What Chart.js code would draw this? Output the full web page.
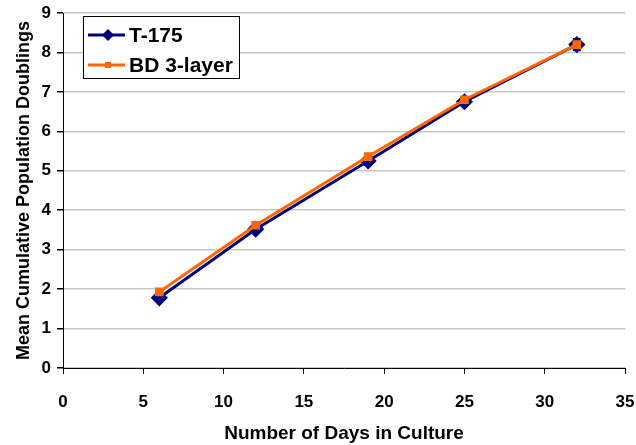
<!DOCTYPE html>
<html>
<head>
<meta charset="utf-8">
<script src="https://cdn.jsdelivr.net/npm/chart.js@4"></script>
<style>
  html, body { margin: 0; padding: 0; background: #fff; }
  #wrap { width: 636px; height: 445px; }
</style>
</head>
<body>
<div id="wrap"><canvas id="growthChart" width="636" height="445"></canvas></div>
<script>
// data
var days = [6, 12, 19, 25, 32];
var t175 = [1.78, 3.52, 5.25, 6.75, 8.2];
var t175Err = [0.05, 0.05, 0.05, 0.05, 0.15];
var bd3 = [1.93, 3.62, 5.36, 6.8, 8.2];
var bd3Err = [0.06, 0.06, 0.05, 0.04, 0.1];
var xTicks = [0, 5, 10, 15, 20, 25, 30, 35];
var yTicks = [0, 1, 2, 3, 4, 5, 6, 7, 8, 9];

var FONT = "'Liberation Sans', Arial, sans-serif";

function pts(xs, ys) {
    return xs.map(function (x, i) { return { x: x, y: ys[i] }; });
}

var errorBars = {
    id: "errorBars",
    beforeDatasetsDraw: function (chart) {
        var ctx = chart.ctx;
        var xs = chart.scales.x, ys = chart.scales.y;
        chart.data.datasets.forEach(function (ds) {
            ctx.save();
            ctx.strokeStyle = ds.errColor;
            ctx.lineWidth = 1.5;
            ds.data.forEach(function (p, i) {
                var e = ds.err[i];
                var px = xs.getPixelForValue(p.x);
                var top = ys.getPixelForValue(p.y + e);
                var bot = ys.getPixelForValue(p.y - e);
                ctx.beginPath();
                ctx.moveTo(px, top); ctx.lineTo(px, bot);
                ctx.moveTo(px - 4, top); ctx.lineTo(px + 4, top);
                ctx.moveTo(px - 4, bot); ctx.lineTo(px + 4, bot);
                ctx.stroke();
            });
            ctx.restore();
        });
    }
};

// legend box drawn inside the plot, like the original
var boxLegend = {
    id: "boxLegend",
    afterDraw: function (chart) {
        var ctx = chart.ctx;
        var x0 = 83, y0 = 16, w = 156, h = 62;
        ctx.save();
        ctx.fillStyle = "#fff";
        ctx.fillRect(x0, y0, w, h);
        ctx.strokeStyle = "#000";
        ctx.lineWidth = 1;
        ctx.strokeRect(x0 + 0.5, y0 + 0.5, w, h);
        ctx.font = "bold 21px " + FONT;
        ctx.textBaseline = "middle";
        chart.data.datasets.forEach(function (ds, i) {
            var y = y0 + 19 + i * 30;
            ctx.strokeStyle = ds.borderColor;
            ctx.lineWidth = 3;
            ctx.beginPath();
            ctx.moveTo(x0 + 5, y); ctx.lineTo(x0 + 42, y);
            ctx.stroke();
            ctx.fillStyle = ds.borderColor;
            var cx = x0 + 25;
            if (ds.pointStyle === "rectRot") {
                ctx.beginPath();
                ctx.moveTo(cx, y - 6); ctx.lineTo(cx + 6, y);
                ctx.lineTo(cx, y + 6); ctx.lineTo(cx - 6, y);
                ctx.closePath(); ctx.fill();
            } else {
                ctx.fillRect(cx - 3, y - 3, 6, 6);
            }
            ctx.fillStyle = "#000";
            ctx.fillText(ds.label, x0 + 46, y + 1);
        });
        ctx.restore();
    }
};

var ctx = document.getElementById("growthChart").getContext("2d");
var growthChart = new Chart(ctx, {
    type: "scatter",
    data: {
        datasets: [
            {
                label: "T-175",
                data: pts(days, t175),
                err: t175Err,
                errColor: "#000040",
                showLine: true,
                borderColor: "#000080",
                backgroundColor: "#000080",
                borderWidth: 3,
                pointStyle: "rectRot",
                pointRadius: 6.5,
                order: 1
            },
            {
                label: "BD 3-layer",
                data: pts(days, bd3),
                err: bd3Err,
                errColor: "#666666",
                showLine: true,
                borderColor: "#FF6600",
                backgroundColor: "#FF6600",
                borderWidth: 3,
                pointStyle: "rect",
                pointRadius: 4,
                order: 0
            }
        ]
    },
    options: {
        responsive: false,
        animation: false,
        layout: { padding: { top: 13, right: 11, left: 12, bottom: 0 } },
        plugins: {
            legend: { display: false },
            tooltip: { enabled: false }
        },
        scales: {
            x: {
                type: "linear",
                min: 0,
                max: 35,
                afterBuildTicks: function (axis) {
                    axis.ticks = xTicks.map(function (v) { return { value: v }; });
                },
                border: { color: "#000", width: 1 },
                grid: { drawOnChartArea: false, color: "#000", tickLength: 6 },
                ticks: {
                    color: "#000",
                    padding: 18,
                    font: { family: FONT, size: 17, weight: "bold" }
                },
                title: {
                    display: true,
                    text: "Number of Days in Culture",
                    color: "#000",
                    padding: { top: 0, bottom: 0 },
                    font: { family: FONT, size: 19, weight: "bold" }
                },
                afterFit: function (axis) {
                    axis.height = 77;
                    axis.paddingLeft = 0;
                    axis.paddingRight = 0;
                }
            },
            y: {
                min: 0,
                max: 9,
                afterBuildTicks: function (axis) {
                    axis.ticks = yTicks.map(function (v) { return { value: v }; });
                },
                border: { color: "#000", width: 1 },
                grid: { color: "#c8c8c8", lineWidth: 1.5, tickColor: "#000", tickLength: 6 },
                ticks: {
                    color: "#000",
                    padding: 6,
                    font: { family: FONT, size: 17, weight: "bold" }
                },
                title: {
                    display: true,
                    text: "Mean Cumulative Population Doublings",
                    color: "#000",
                    padding: { top: 1, bottom: 4 },
                    font: { family: FONT, size: 18, weight: "bold" }
                },
                afterFit: function (axis) {
                    axis.width = 51;
                    axis.paddingTop = 0;
                    axis.paddingBottom = 0;
                }
            }
        }
    },
    plugins: [errorBars, boxLegend]
});
</script>
</body>
</html>
